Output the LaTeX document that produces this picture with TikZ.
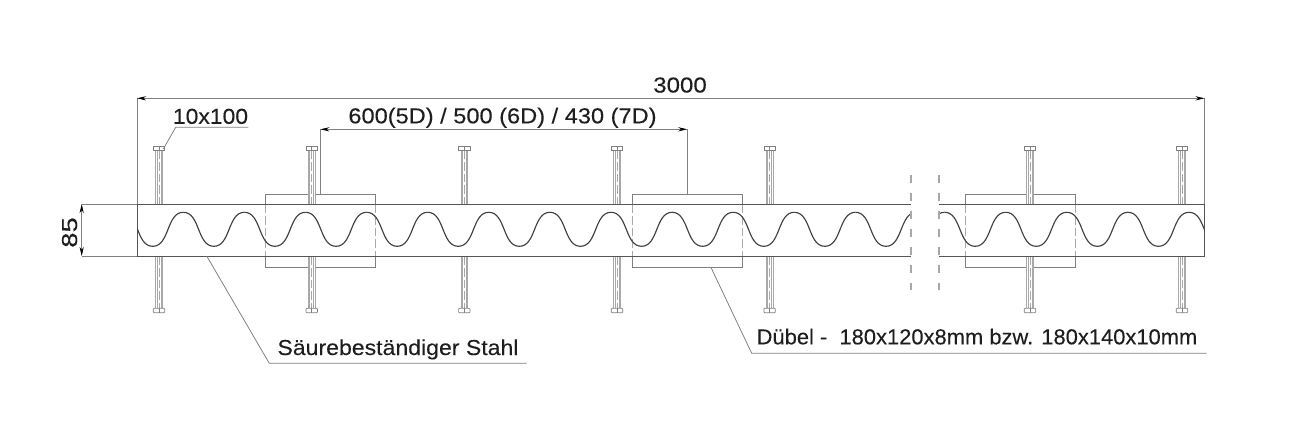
\documentclass[tikz,border=0pt]{standalone}
\usepackage{fontspec}
\usepackage{graphicx}
\setmainfont{Liberation Sans}[FakeStretch=1.06,FakeBold=0.12]
\usetikzlibrary{arrows.meta}
\definecolor{beamgray}{HTML}{555555}
\definecolor{dimgray}{HTML}{808080}
\definecolor{boltgray}{HTML}{A8A8A8}
\definecolor{textgray}{HTML}{1E1E1E}
\tikzset{
  beamline/.style={draw=beamgray,line width=0.55pt},
  waveline/.style={draw=black!75,line width=0.65pt},
  dowelline/.style={draw=dimgray,line width=0.5pt},
  dowelhid/.style={draw=boltgray,line width=0.45pt,dash pattern=on 5pt off 1.7pt},
  boltline/.style={draw=boltgray,line width=0.45pt},
  headline/.style={draw=dimgray,line width=0.4pt},
  dimline/.style={draw=dimgray,line width=0.45pt},
  dimarrow/.style={dimline,{Stealth[length=5.2pt,width=2.4pt,black]}-{Stealth[length=5.2pt,width=2.4pt,black]}},
  breakline/.style={draw=boltgray,line width=0.6pt,dash pattern=on 4.5pt off 5.7pt},
  label/.style={text=textgray,font=\fontsize{12.3}{14}\selectfont,inner sep=0pt,anchor=base}
}
\begin{document}
\begin{tikzpicture}[x=0.02cm,y=-0.02cm]
\useasboundingbox (0,0) rectangle (1300,433);
% dowels
\foreach \dx in {265.7,632,965} {
  \draw[dowelline] (\dx,204) -- (\dx,194.3) -- (\dx+110,194.3) -- (\dx+110,204);
  \draw[dowelline] (\dx,256) -- (\dx,267.5) -- (\dx+110,267.5) -- (\dx+110,256);
  \draw[dowelhid] (\dx,204) -- (\dx,256);
  \draw[dowelhid] (\dx+110,204) -- (\dx+110,256);
}
% bolts
\foreach \bx in {159,311.7,464.3,617,769.6,1030,1182} {
  \fill[white] (\bx-3.4,150) rectangle (\bx+3.4,204);
  \fill[white] (\bx-3.4,256) rectangle (\bx+3.4,308);
  \foreach \bs in {-3.4,-2,2,3.4} {
    \draw[boltline] (\bx+\bs,150) -- (\bx+\bs,204);
    \draw[boltline] (\bx+\bs,256) -- (\bx+\bs,308);
  }
  \draw[dowelhid,line width=0.3pt] (\bx,150) -- (\bx,204);
  \draw[dowelhid,line width=0.3pt] (\bx,256) -- (\bx,308);
  \draw[headline,fill=white] (\bx-5.7,146.3) rectangle (\bx+5.7,150.5);
  \draw[headline,fill=white,rounded corners=0.4pt] (\bx-5.7,308.3) rectangle (\bx+5.7,312.7);
  \draw[headline] (\bx,146.3) -- (\bx,150.5);
  \draw[headline] (\bx,308.3) -- (\bx,312.7);
}
% beam
\draw[beamline] (911,204) -- (137,204) -- (137,256) -- (911,256);
\draw[beamline] (939,204) -- (1204.5,204) -- (1204.5,256) -- (939,256);
% left hand wave
\scope
\clip (137,200) rectangle (911,260);
\foreach \k in {0,...,12} {
  \pgfmathsetmacro{\px}{122.2+61.1*\k}
  \draw[waveline] (\px,212.3) .. controls (\px+17,212.3) and (\px+13.55,246.3) .. (\px+30.55,246.3)
     .. controls (\px+47.55,246.3) and (\px+44.1,212.3) .. (\px+61.1,212.3);
}
\endscope
% right hand wave
\scope
\clip (939,200) rectangle (1204.5,260);
\foreach \k in {0,...,5} {
  \pgfmathsetmacro{\px}{883.5+61.1*\k}
  \draw[waveline] (\px,212.3) .. controls (\px+17,212.3) and (\px+13.55,246.3) .. (\px+30.55,246.3)
     .. controls (\px+47.55,246.3) and (\px+44.1,212.3) .. (\px+61.1,212.3);
}
\endscope
% break
\coordinate (brkAtop) at (911,175);
\coordinate (brkAbot) at (911,295);
\coordinate (brkBtop) at (939,175);
\coordinate (brkBbot) at (939,295);
\draw[breakline] (brkAtop) -- (brkAbot);
\draw[breakline] (brkBtop) -- (brkBbot);
% overall length
\coordinate (lenL) at (137,98.3);
\coordinate (lenR) at (1204.5,98.3);
\coordinate (lenLb) at (137,204);
\coordinate (lenRb) at (1204.5,204);
\draw[dimline] (lenLb) -- (lenL);
\draw[dimline] (lenRb) -- (lenR);
\draw[dimarrow] (lenL) -- (lenR);
\node[label] (lenText) at (680,92.5) {\scalebox{1.05}[1]{3000}};
% spacing
\coordinate (spcL) at (320.3,129.3);
\coordinate (spcR) at (687.3,129.3);
\coordinate (spcLb) at (320.3,194.3);
\coordinate (spcRb) at (687.3,194.3);
\draw[dimline] (spcLb) -- (spcL);
\draw[dimline] (spcRb) -- (spcR);
\draw[dimarrow] (spcL) -- (spcR);
\node[label] (spcText) at (502.5,123.3) {\scalebox{1.03}[1]{600(5D) / 500 (6D) / 430 (7D)}};
% height
\coordinate (hgtT) at (81.7,204);
\coordinate (hgtB) at (81.7,256);
\coordinate (hgtTr) at (137,204);
\coordinate (hgtBr) at (137,256);
\draw[dimline] (hgtT) -- (hgtTr);
\draw[dimline] (hgtB) -- (hgtBr);
\draw[dimarrow] (hgtT) -- (hgtB);
\node[label,rotate=90] (hgtText) at (77,232.5) {\scalebox{1.2}[1]{85}};
% leaders
\coordinate (boltHead) at (163.3,149);
\coordinate (boltKnee) at (175.7,127.3);
\coordinate (boltEnd) at (248.3,127.3);
\draw[dimline] (boltHead) -- (boltKnee) -- (boltEnd);
\node[label] (boltText) at (210.5,123.8) {10x100};
\coordinate (steelPt) at (206.7,256);
\coordinate (steelKnee) at (269.3,363.3);
\coordinate (steelEnd) at (526.7,363.3);
\draw[dimline] (steelPt) -- (steelKnee) -- (steelEnd);
\node[label] (steelText) at (398,355) {\scalebox{1.007}[1]{Säurebeständiger Stahl}};
\coordinate (dowelPt) at (711,267.5);
\coordinate (dowelKnee) at (751.7,353.3);
\coordinate (dowelEnd) at (1206.7,353.3);
\draw[dimline] (dowelPt) -- (dowelKnee) -- (dowelEnd);
\node[label] (dowelText) at (977,344.3) {\scalebox{0.957}[1]{Dübel -\ \ 180x120x8mm bzw. 180x140x10mm}};
\end{tikzpicture}
\end{document}
